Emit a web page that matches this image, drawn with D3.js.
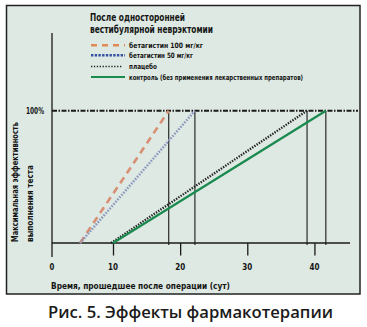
<!DOCTYPE html>
<html>
<head>
<meta charset="utf-8">
<script src="https://cdn.jsdelivr.net/npm/d3@7"></script>
<style>
  html, body { margin: 0; padding: 0; background: #fff; }
  svg text { font-family: "DejaVu Sans Condensed", "DejaVu Sans", sans-serif; font-weight: bold; fill: #151515; }
  svg text.caption { font-family: "Open Sans", "Noto Sans", sans-serif; font-weight: 600; fill: #1a1a1a; }
</style>
</head>
<body>
<svg id="chart" width="367" height="327"></svg>
<script>
// Recovery curves after unilateral vestibular neurectomy
const seriesNames = [
  "бетагистин 100 мг/кг",
  "бетагистин 50 мг/кг",
  "плацебо",
  "контроль (без применения лекарственных препаратов)"
];
// day when recovery starts (0%) and day when 100% is reached
const startDay = [4.6, 4.6, 9.7, 10.0];
const endDay   = [18.3, 22.2, 38.9, 41.7];
const levels   = [0, 100];

const xTicks = [0, 10, 20, 30, 40];
const yTickLabel = "100%";
const titleLines = ["После односторонней", "вестибулярной неврэктомии"];
const yTitleLines = ["Максимальная эффективность", "выполнения теста"];
const xTitle = "Время, прошедшее после операции (сут)";
const caption = "Рис. 5. Эффекты фармакотерапии";

const svg = d3.select("#chart");

// panel
svg.append("rect")
  .attr("x", 6.5).attr("y", 5.5).attr("width", 353.5).attr("height", 288.5)
  .attr("fill", "#dde9e2").attr("stroke", "#222").attr("stroke-width", 1.5);

// axis origin is drawn a little left of the evenly spaced day ticks
const x = d3.scaleLinear().domain([0, 10, 45]).range([52, 113, 348]);
const y = d3.scaleLinear().domain([0, 100]).range([243, 110.7]);

const plotStyles = [
  { stroke: "#d98f73", width: 2.6, dash: "7,5" },
  { stroke: "#8b97bd", width: 2.5, dash: "1.6,1.4" },
  { stroke: "#222", width: 2.3, dash: "1.4,1.3" },
  { stroke: "#1b8a4f", width: 2.3, dash: null }
];
const legendStyles = [
  { stroke: "#e08a55", width: 2.4, dash: "6,5" },
  { stroke: "#3552a2", width: 2.6, dash: "2.4,1.3" },
  { stroke: "#222", width: 1.6, dash: "1.3,1.6" },
  { stroke: "#1b8a4f", width: 2.2, dash: null }
];

function fitText(sel, len) {
  sel.attr("textLength", len).attr("lengthAdjust", "spacingAndGlyphs");
  return sel;
}

// title
const titleY = [20.5, 32.5];
const titleW = [95, 123];
titleLines.forEach((t, i) => {
  fitText(svg.append("text").attr("x", 90).attr("y", titleY[i])
    .attr("font-size", 10.3).text(t), titleW[i]);
});

// legend
const legY = [45.3, 55.3, 66.5, 77];
const legW = [74, 64, 28, 174];
seriesNames.forEach((name, i) => {
  const st = legendStyles[i];
  svg.append("line")
    .attr("x1", 91).attr("x2", i === 2 ? 122 : 125)
    .attr("y1", legY[i]).attr("y2", legY[i])
    .attr("stroke", st.stroke).attr("stroke-width", st.width)
    .attr("stroke-dasharray", st.dash);
  fitText(svg.append("text").attr("x", 129).attr("y", legY[i] + 2.6)
    .attr("font-size", 7.3).text(name), legW[i]);
});

// 100% level line
svg.append("line")
  .attr("x1", x(0)).attr("x2", 358)
  .attr("y1", y(100)).attr("y2", y(100))
  .attr("stroke", "#1a1a1a").attr("stroke-width", 2)
  .attr("stroke-dasharray", "5,1.5,1.5,1.5");

// vertical markers at the day each series reaches 100%
svg.append("g").selectAll("line").data(endDay).join("line")
  .attr("x1", d => x(d)).attr("x2", d => x(d))
  .attr("y1", y(100)).attr("y2", y(0) + 2)
  .attr("stroke", "#1a1a1a").attr("stroke-width", 1.1);

// axes
svg.append("line").attr("x1", x(0)).attr("x2", x(0)).attr("y1", 33).attr("y2", 257)
  .attr("stroke", "#1a1a1a").attr("stroke-width", 1.3);
svg.append("line").attr("x1", x(0)).attr("x2", 350).attr("y1", y(0)).attr("y2", y(0))
  .attr("stroke", "#1a1a1a").attr("stroke-width", 1.3);

const xAxis = d3.axisBottom(x).tickValues(xTicks.slice(1)).tickSize(12.5).tickFormat(d3.format("d"));
const gx = svg.append("g").attr("transform", `translate(0,${y(0)})`).call(xAxis);
gx.select(".domain").remove();
gx.selectAll(".tick line").attr("stroke", "#1a1a1a").attr("stroke-width", 1.3);
gx.selectAll(".tick text").remove();

svg.append("g").selectAll("text").data(xTicks).join("text")
  .attr("x", d => x(d)).attr("y", 270)
  .attr("text-anchor", "middle").attr("font-size", 8.6)
  .each(function(d) { fitText(d3.select(this), d === 0 ? 4.8 : 10); })
  .text(d => d);

fitText(svg.append("text").attr("x", 44).attr("y", y(100) + 3)
  .attr("text-anchor", "end").attr("font-size", 8).text(yTickLabel), 18);

// axis titles
fitText(svg.append("text").attr("x", 51).attr("y", 288.5)
  .attr("font-size", 8.6).text(xTitle), 179);

const yTitleX = [15, 30];
const yTitleW = [120, 77];
yTitleLines.forEach((t, i) => {
  fitText(svg.append("text")
    .attr("transform", `translate(${yTitleX[i] + 3.2},242) rotate(-90)`)
    .attr("font-size", 8.6).text(t), yTitleW[i]);
});

// recovery lines
const lineGen = d3.line().x(d => x(d[0])).y(d => y(d[1]));
seriesNames.forEach((name, i) => {
  const st = plotStyles[i];
  svg.append("path")
    .datum([[startDay[i], levels[0]], [endDay[i], levels[1]]])
    .attr("d", lineGen)
    .attr("fill", "none")
    .attr("stroke", st.stroke).attr("stroke-width", st.width)
    .attr("stroke-dasharray", st.dash);
});

// figure caption
fitText(svg.append("text").attr("class", "caption")
  .attr("x", 48).attr("y", 318).attr("font-size", 16.5).text(caption), 285);
</script>
</body>
</html>
